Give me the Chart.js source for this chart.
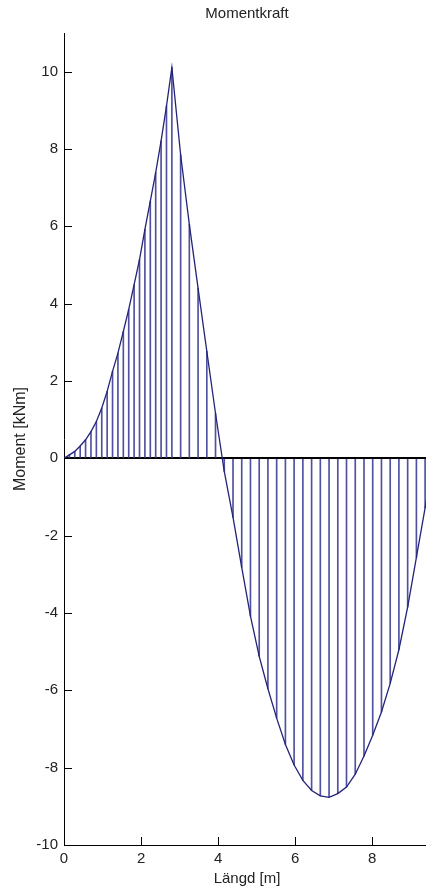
<!DOCTYPE html>
<html>
<head>
<meta charset="utf-8">
<title>Momentkraft</title>
<script src="https://cdn.jsdelivr.net/npm/chart.js@4.4.1/dist/chart.umd.min.js"></script>
<style>
  html, body { margin: 0; padding: 0; background: #fff; overflow: hidden; }
  #wrap { width: 432px; height: 888px; }
</style>
</head>
<body>
<div id="wrap"><canvas id="momentChart" width="432" height="888"></canvas></div>
<script>
// Position along the beam [m]
const lengthValues = [
  0, 0.14, 0.28, 0.42, 0.56, 0.70, 0.84, 0.98, 1.12, 1.26, 1.40,
  1.54, 1.68, 1.82, 1.96, 2.10, 2.24, 2.38, 2.52, 2.66, 2.80,
  3.027, 3.253, 3.480, 3.707, 3.933, 4.160, 4.387, 4.613, 4.840, 5.067,
  5.293, 5.520, 5.747, 5.973, 6.200, 6.427, 6.653, 6.880, 7.107, 7.333,
  7.560, 7.787, 8.013, 8.240, 8.467, 8.693, 8.920, 9.147, 9.373, 9.600
];

// Moment [kNm] at each position
const momentValues = [
  0, 0.09, 0.18, 0.32, 0.48, 0.69, 0.95, 1.30, 1.73, 2.25, 2.72,
  3.28, 3.85, 4.49, 5.14, 5.92, 6.65, 7.39, 8.21, 9.11, 10.11,
  7.85, 6.05, 4.40, 2.77, 1.16, -0.34, -1.53, -2.82, -4.08, -5.12,
  -5.96, -6.72, -7.40, -7.93, -8.33, -8.59, -8.73, -8.77, -8.67, -8.50,
  -8.17, -7.70, -7.16, -6.56, -5.82, -4.95, -3.85, -2.56, -1.28, 0
];

const xTicks = [0, 2, 4, 6, 8];
const yTicks = [-10, -8, -6, -4, -2, 0, 2, 4, 6, 8, 10];

const plotTitle = 'Momentkraft';
const xTitle = 'Längd [m]';
const yTitle = 'Moment [kNm]';

const points = lengthValues.map((x, i) => ({ x: x, y: momentValues[i] }));
const fontFamily = '"Liberation Sans", Arial, sans-serif';

// MATLAB style: tick marks point into the plot, title over the axes
const insideTicks = {
  id: 'insideTicks',
  afterDraw(chart) {
    const { ctx, chartArea, scales } = chart;
    ctx.save();
    ctx.strokeStyle = '#000';
    ctx.lineWidth = 1;
    ctx.beginPath();
    scales.y.ticks.forEach(t => {
      const py = Math.round(scales.y.getPixelForValue(t.value)) + 0.5;
      ctx.moveTo(chartArea.left, py);
      ctx.lineTo(chartArea.left + 8, py);
    });
    scales.x.ticks.forEach(t => {
      const px = Math.round(scales.x.getPixelForValue(t.value)) + 0.5;
      ctx.moveTo(px, chartArea.bottom);
      ctx.lineTo(px, chartArea.bottom - 8);
    });
    ctx.stroke();

    ctx.fillStyle = '#222';
    ctx.font = '15px ' + fontFamily;
    ctx.textAlign = 'center';
    ctx.textBaseline = 'middle';
    ctx.fillText(plotTitle, (chartArea.left + chartArea.right) / 2, 14);
    ctx.restore();
  }
};

new Chart(document.getElementById('momentChart'), {
  type: 'line',
  data: {
    datasets: [
      {
        type: 'line',
        data: points,
        borderColor: 'rgb(35, 35, 120)',
        borderWidth: 1.3,
        pointRadius: 0,
        tension: 0,
        fill: false,
        order: 1
      },
      {
        type: 'bar',
        data: points,
        backgroundColor: 'rgb(80, 80, 160)',
        borderWidth: 0,
        barThickness: 1,
        grouped: false,
        order: 2
      }
    ]
  },
  plugins: [insideTicks],
  options: {
    responsive: false,
    animation: false,
    layout: { padding: { top: 33, right: 2, left: 0, bottom: 0 } },
    plugins: {
      legend: { display: false },
      title: { display: false },
      tooltip: { enabled: false }
    },
    scales: {
      x: {
        type: 'linear',
        min: 0,
        max: 9.5,
        offset: false,
        afterBuildTicks: scale => { scale.ticks = xTicks.map(v => ({ value: v })); },
        afterFit: scale => { scale.height = 43; },
        grid: { drawTicks: false, color: 'rgba(0,0,0,0)' },
        border: { display: true, color: '#000', width: 1 },
        ticks: { color: '#222', padding: 5, font: { size: 15, family: fontFamily } },
        title: {
          display: true,
          text: xTitle,
          color: '#222',
          font: { size: 15, family: fontFamily },
          padding: { top: 1, bottom: 0 }
        }
      },
      y: {
        type: 'linear',
        min: -10,
        max: 11,
        afterBuildTicks: scale => { scale.ticks = yTicks.map(v => ({ value: v })); },
        afterFit: scale => { scale.width = 64; },
        grid: {
          drawTicks: false,
          color: ctx => (ctx.tick && ctx.tick.value === 0 ? '#000' : 'rgba(0,0,0,0)'),
          lineWidth: ctx => (ctx.tick && ctx.tick.value === 0 ? 2 : 1)
        },
        border: { display: true, color: '#000', width: 1 },
        ticks: { color: '#222', padding: 6, font: { size: 15, family: fontFamily } },
        title: {
          display: true,
          text: yTitle,
          color: '#222',
          font: { size: 16, family: fontFamily },
          padding: { top: 11, bottom: 0 }
        }
      }
    }
  }
});
</script>
</body>
</html>
